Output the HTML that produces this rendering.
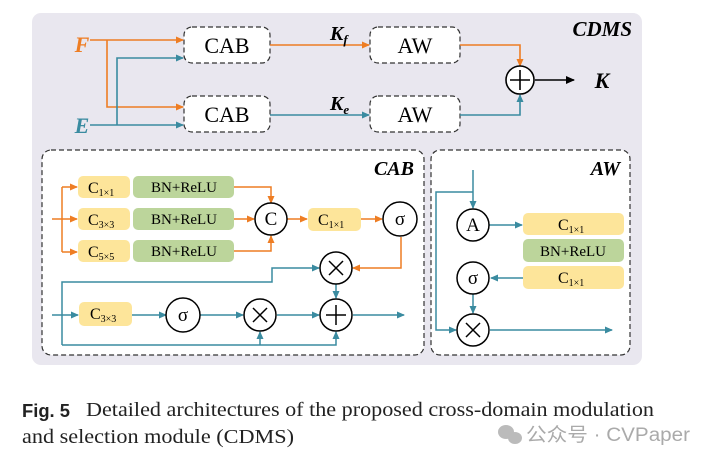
<!DOCTYPE html>
<html><head><style>body{margin:0;background:#fff}svg{display:block}</style></head><body>
<svg width="716" height="463" xmlns="http://www.w3.org/2000/svg" font-family="Liberation Serif, serif">
<defs>
<marker id="ao" markerWidth="8" markerHeight="8" refX="7" refY="4" orient="auto" markerUnits="userSpaceOnUse"><path d="M0,0.5 L8,4 L0,7.5 z" fill="#ee7d23"/></marker>
<marker id="at" markerWidth="8" markerHeight="8" refX="7" refY="4" orient="auto" markerUnits="userSpaceOnUse"><path d="M0,0.5 L8,4 L0,7.5 z" fill="#3a8ba0"/></marker>
<marker id="ak" markerWidth="9" markerHeight="9" refX="8" refY="4.5" orient="auto" markerUnits="userSpaceOnUse"><path d="M0,0.5 L9,4.5 L0,8.5 z" fill="#000"/></marker>
</defs>
<rect x="32" y="13" width="610" height="352" rx="9" fill="#e9e7ef"/>
<text x="632" y="36" text-anchor="end" font-size="21" font-weight="bold" font-style="italic">CDMS</text>
<text x="82" y="52" font-size="22" font-weight="bold" font-style="italic" fill="#ee7d23" text-anchor="middle">F</text>
<text x="82" y="133" font-size="22" font-weight="bold" font-style="italic" fill="#3a8ba0" text-anchor="middle">E</text>
<g fill="#fff" stroke="#333" stroke-dasharray="5,3" stroke-width="1.2">
<rect x="184" y="27" width="86" height="36" rx="8"/><rect x="184" y="96" width="86" height="36" rx="8"/>
<rect x="370" y="27" width="90" height="36" rx="8"/><rect x="370" y="96" width="90" height="36" rx="8"/>
</g>
<g font-size="22" text-anchor="middle"><text x="227" y="53">CAB</text><text x="227" y="122">CAB</text><text x="415" y="53">AW</text><text x="415" y="122">AW</text></g>
<g fill="none" stroke-width="1.6">
<path d="M90,40 H183" stroke="#ee7d23" marker-end="url(#ao)"/>
<path d="M107,40 V107 H183" stroke="#ee7d23" marker-end="url(#ao)"/>
<path d="M90,125 H183" stroke="#3a8ba0" marker-end="url(#at)"/>
<path d="M117,125 V58 H183" stroke="#3a8ba0" marker-end="url(#at)"/>
<path d="M270,45 H369" stroke="#ee7d23" marker-end="url(#ao)"/>
<path d="M270,115 H369" stroke="#3a8ba0" marker-end="url(#at)"/>
<path d="M460,45 H520 V66" stroke="#ee7d23" marker-end="url(#ao)"/>
<path d="M460,115 H520 V95" stroke="#3a8ba0" marker-end="url(#at)"/>
<path d="M535,80 H574" stroke="#000" marker-end="url(#ak)"/>
</g>
<circle cx="520" cy="80" r="14" fill="#fff" stroke="#000" stroke-width="1.6"/>
<path d="M520,70 V90 M510,80 H530" stroke="#000" stroke-width="1.6"/>
<text x="602" y="88" font-size="22" font-weight="bold" font-style="italic" text-anchor="middle">K</text>
<text x="330" y="40" font-size="20" font-weight="bold" font-style="italic">K<tspan font-size="13" dy="4">f</tspan></text>
<text x="330" y="110" font-size="20" font-weight="bold" font-style="italic">K<tspan font-size="13" dy="4">e</tspan></text>
<rect x="42" y="150" width="382" height="205" rx="9" fill="#fff" stroke="#333" stroke-dasharray="5,3" stroke-width="1.2"/>
<rect x="431" y="150" width="199" height="205" rx="9" fill="#fff" stroke="#333" stroke-dasharray="5,3" stroke-width="1.2"/>
<text x="414" y="175" text-anchor="end" font-size="20" font-weight="bold" font-style="italic">CAB</text>
<text x="620" y="175" text-anchor="end" font-size="20" font-weight="bold" font-style="italic">AW</text>
<g fill="#fde59a"><rect x="78" y="176" width="52" height="22" rx="5"/><rect x="78" y="208" width="52" height="22" rx="5"/><rect x="78" y="240" width="52" height="22" rx="5"/><rect x="308" y="208" width="53" height="23" rx="5"/><rect x="79" y="302" width="53" height="24" rx="5"/>
<rect x="523" y="213" width="101" height="22" rx="5"/><rect x="523" y="266" width="101" height="23" rx="5"/></g>
<g fill="#bcd59b"><rect x="133" y="176" width="101" height="22" rx="5"/><rect x="133" y="208" width="101" height="22" rx="5"/><rect x="133" y="240" width="101" height="22" rx="5"/><rect x="523" y="239" width="101" height="23" rx="5"/></g>
<g font-size="16">
<text x="88" y="193">C<tspan font-size="10" dy="3">1×1</tspan></text>
<text x="88" y="225">C<tspan font-size="10" dy="3">3×3</tspan></text>
<text x="88" y="257">C<tspan font-size="10" dy="3">5×5</tspan></text>
<text x="318" y="225">C<tspan font-size="10" dy="3">1×1</tspan></text>
<text x="90" y="319">C<tspan font-size="10" dy="3">3×3</tspan></text>
<text x="558" y="230">C<tspan font-size="10" dy="3">1×1</tspan></text>
<text x="558" y="283">C<tspan font-size="10" dy="3">1×1</tspan></text>
</g>
<g font-size="15" text-anchor="middle"><text x="184" y="192">BN+ReLU</text><text x="184" y="224">BN+ReLU</text><text x="184" y="256">BN+ReLU</text><text x="573" y="256">BN+ReLU</text></g>
<g fill="none" stroke-width="1.5">
<path d="M52,219 H77" stroke="#ee7d23" marker-end="url(#ao)"/>
<path d="M62,252 V187" stroke="#ee7d23"/>
<path d="M62,187 H77" stroke="#ee7d23" marker-end="url(#ao)"/>
<path d="M62,252 H77" stroke="#ee7d23" marker-end="url(#ao)"/>
<path d="M234,187 H271 V203" stroke="#ee7d23" marker-end="url(#ao)"/>
<path d="M234,219 H254" stroke="#ee7d23" marker-end="url(#ao)"/>
<path d="M234,251 H271 V236" stroke="#ee7d23" marker-end="url(#ao)"/>
<path d="M287,219 H307" stroke="#ee7d23" marker-end="url(#ao)"/>
<path d="M361,219 H382" stroke="#ee7d23" marker-end="url(#ao)"/>
<path d="M401,237 V268 H353" stroke="#ee7d23" marker-end="url(#ao)"/>
<path d="M52,315 H78" stroke="#3a8ba0" marker-end="url(#at)"/>
<path d="M132,315 H166" stroke="#3a8ba0" marker-end="url(#at)"/>
<path d="M200,315 H243" stroke="#3a8ba0" marker-end="url(#at)"/>
<path d="M277,315 H319" stroke="#3a8ba0" marker-end="url(#at)"/>
<path d="M353,315 H404" stroke="#3a8ba0" marker-end="url(#at)"/>
<path d="M336,284 V298" stroke="#3a8ba0" marker-end="url(#at)"/>
<path d="M62,345 V282 H272 V268 H319" stroke="#3a8ba0" marker-end="url(#at)"/>
<path d="M62,345 H336 V332" stroke="#3a8ba0" marker-end="url(#at)"/>
<path d="M260,345 V332" stroke="#3a8ba0" marker-end="url(#at)"/>
<path d="M473,170 V208" stroke="#3a8ba0" marker-end="url(#at)"/>
<path d="M473,192 H436 V330 H456" stroke="#3a8ba0" marker-end="url(#at)"/>
<path d="M489,225 H522" stroke="#3a8ba0" marker-end="url(#at)"/>
<path d="M523,278 H491" stroke="#3a8ba0" marker-end="url(#at)"/>
<path d="M473,294 V313" stroke="#3a8ba0" marker-end="url(#at)"/>
<path d="M490,330 H612" stroke="#3a8ba0" marker-end="url(#at)"/>
</g>
<g fill="#fff" stroke="#000" stroke-width="1.5">
<circle cx="271" cy="219" r="16"/><circle cx="400" cy="219" r="17"/><circle cx="336" cy="268" r="16"/>
<circle cx="183" cy="315" r="17"/><circle cx="260" cy="315" r="16"/><circle cx="336" cy="315" r="16"/>
<circle cx="473" cy="225" r="16"/><circle cx="473" cy="278" r="16"/><circle cx="473" cy="330" r="16"/>
</g>
<g stroke="#000" stroke-width="1.5">
<path d="M329,261 L343,275 M343,261 L329,275"/>
<path d="M253,308 L267,322 M267,308 L253,322"/>
<path d="M466,323 L480,337 M480,323 L466,337"/>
<path d="M336,305 V325 M326,315 H346"/>
</g>
<g font-size="19" text-anchor="middle">
<text x="271" y="225">C</text><text x="400" y="225">σ</text><text x="183" y="321">σ</text><text x="473" y="231">A</text><text x="473" y="284">σ</text>
</g>
<text x="22" y="417" font-family="Liberation Sans, sans-serif" font-weight="bold" font-size="18" fill="#222" textLength="48" lengthAdjust="spacingAndGlyphs">Fig. 5</text>
<text x="86" y="416" font-size="20" fill="#222" textLength="568" lengthAdjust="spacingAndGlyphs">Detailed architectures of the proposed cross-domain modulation</text>
<text x="22" y="443" font-size="20" fill="#222" textLength="272" lengthAdjust="spacingAndGlyphs">and selection module (CDMS)</text>
<g fill="#bbb"><ellipse cx="506" cy="432" rx="8" ry="7"/><ellipse cx="515" cy="438" rx="7" ry="6"/></g>
<text x="526" y="441" font-family="Liberation Sans, Noto Sans CJK SC, sans-serif" font-size="19" fill="#aaa" textLength="164" lengthAdjust="spacingAndGlyphs">公众号 · CVPaper</text>
</svg>
</body></html>
